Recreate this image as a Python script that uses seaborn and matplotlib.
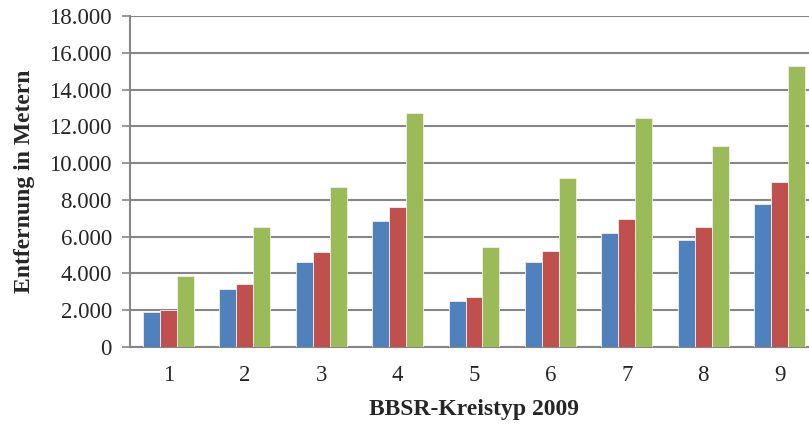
import pandas as pd
import numpy as np
import seaborn as sns
import matplotlib.pyplot as plt
from matplotlib.ticker import FuncFormatter

# values (metres)
kreistyp = ['1', '2', '3', '4', '5', '6', '7', '8', '9']
reihe1 = [1890, 3140, 4620, 6830, 2500, 4620, 6180, 5830, 7790]
reihe2 = [2010, 3410, 5150, 7610, 2700, 5220, 6960, 6500, 9000]
reihe3 = [3860, 6500, 8680, 12720, 5440, 9190, 12460, 10940, 15270]
serien = ['Reihe 1', 'Reihe 2', 'Reihe 3']
farben = ['#4F81BD', '#C0504D', '#9BBB59']

df = pd.DataFrame({
    'typ': kreistyp * 3,
    'serie': np.repeat(serien, len(kreistyp)),
    'wert': reihe1 + reihe2 + reihe3,
})

sns.set_style('white')
plt.rcParams['font.family'] = ['Liberation Serif', 'DejaVu Serif']

fig = plt.figure(figsize=(8.09, 4.25), dpi=100)
# plot area runs past the right edge, as in the reference
ax = fig.add_axes([130/809, 1-347/425, 688/809, 331/425])

sns.barplot(data=df, x='typ', y='wert', hue='serie', palette=farben,
            saturation=1, width=0.667, edgecolor='#f0f0f0', linewidth=0.6,
            legend=False, ax=ax, zorder=3)

grau = '#868686'
ax.set_ylim(0, 18000)
ax.set_yticks(np.arange(0, 18001, 2000))
ax.yaxis.set_major_formatter(FuncFormatter(lambda v, p: f'{int(v):,}'.replace(',', '.')))
ax.grid(axis='y', color=grau, linewidth=1.5, zorder=0)
ax.set_axisbelow(True)

ax.set_xlim(-0.5, 8.5)
ax.set_xticks(np.arange(-0.5, 9, 1))
ax.set_xticklabels([])
ax.set_xticks(np.arange(9), minor=True)
ax.set_xticklabels(kreistyp, minor=True)
ax.tick_params(axis='x', which='major', length=6, width=1.2, color=grau, direction='out')
ax.tick_params(axis='x', which='minor', length=0, pad=13, labelsize=16.5)
ax.tick_params(axis='y', length=6, width=1.2, color=grau, pad=7, labelsize=16.5, left=True)

for s in ['top', 'right']:
    ax.spines[s].set_visible(False)
for s in ['left', 'bottom']:
    ax.spines[s].set_color(grau)
    ax.spines[s].set_linewidth(1.5)

ax.set_ylabel('Entfernung in Metern', fontsize=17, fontweight='bold', va='center')
ax.set_xlabel('BBSR-Kreistyp 2009', fontsize=17, fontweight='bold', va='center')
ax.yaxis.set_label_coords(-0.153, 0.5)
ax.xaxis.set_label_coords(0.5, -0.19)

fig.savefig('out.png', dpi=100)
